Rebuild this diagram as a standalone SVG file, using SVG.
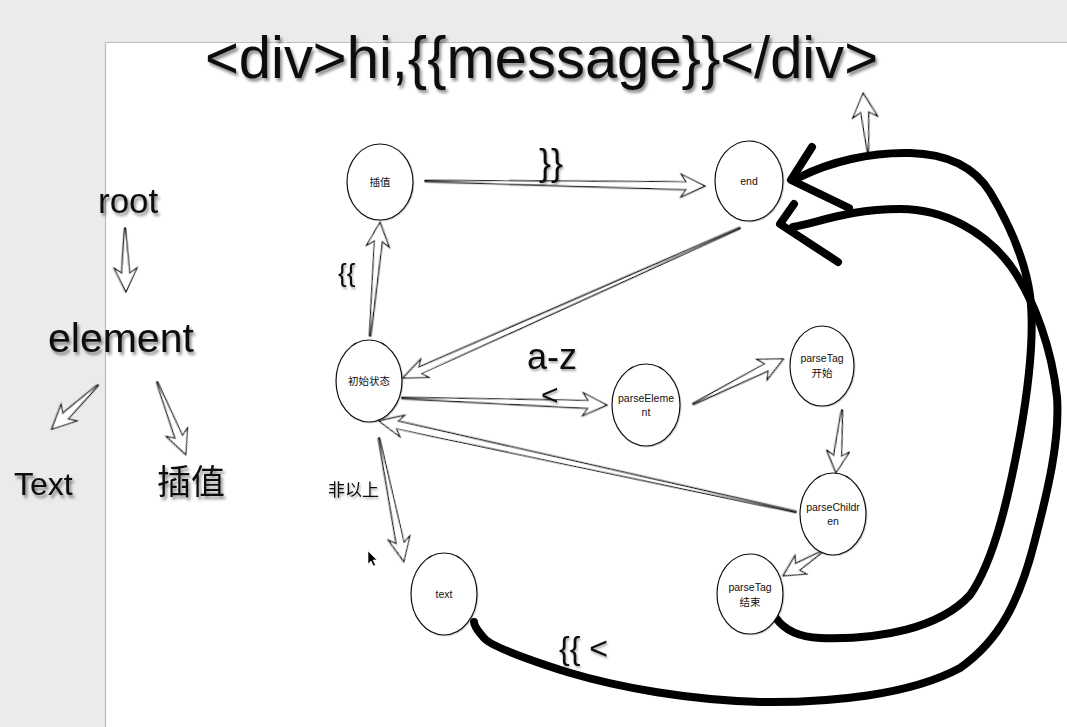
<svg xmlns="http://www.w3.org/2000/svg" width="1067" height="727" viewBox="0 0 1067 727">
<defs>
<style>
.big{font-family:"Liberation Sans","Noto Sans CJK SC",Arial,sans-serif;fill:#111;filter:url(#ts)}
.lbl{font-family:"Liberation Sans","Noto Sans CJK SC",Arial,sans-serif;fill:#111;filter:url(#ts2)}
.nt{font-family:"Liberation Sans","Noto Sans CJK SC",Arial,sans-serif;font-size:10.5px;fill:#111;text-anchor:middle}
.node ellipse{fill:#fff;stroke:#111;stroke-width:1.2;filter:url(#sh)}
.arr{fill:#fff;stroke:#111;stroke-width:1.1;stroke-linejoin:miter;filter:url(#sh)}
.thick{fill:none;stroke:#000;stroke-width:8;stroke-linecap:round;stroke-linejoin:round}
</style>
<filter id="ts" x="-10%" y="-20%" width="130%" height="160%"><feDropShadow dx="2" dy="3" stdDeviation="1.6" flood-color="#000" flood-opacity="0.45"/></filter>
<filter id="ts2" x="-10%" y="-20%" width="130%" height="160%"><feDropShadow dx="1" dy="2" stdDeviation="1" flood-color="#000" flood-opacity="0.35"/></filter>
<filter id="sh" x="-10%" y="-10%" width="130%" height="130%"><feDropShadow dx="0.8" dy="0.8" stdDeviation="0.5" flood-color="#000" flood-opacity="0.2"/></filter>
</defs>
<rect x="0" y="0" width="1067" height="727" fill="#ebebeb"/>
<rect x="105" y="42" width="962" height="685" fill="#fff"/>
<path d="M105.5,727 V42.5 H1067" fill="none" stroke="#bdbdbd" stroke-width="1.2"/>

<text class="big" x="205" y="78" font-size="59" textLength="673" lengthAdjust="spacingAndGlyphs">&lt;div&gt;hi,{{message}}&lt;/div&gt;</text>

<g id="tree">
<text class="big" x="98" y="213" font-size="35">root</text>
<text class="big" x="48" y="352" font-size="41">element</text>
<text class="big" x="14" y="495" font-size="32">Text</text>
<text class="big" x="157" y="494" font-size="34">插值</text>
</g>

<g id="connectors">
<path class="arr" transform="translate(425,181) rotate(1.02)" d="M0,-0.6 L261,-4 L256,-11.5 L280,0 L256,11.5 L261,4 L0,0.6 Z"/>
<path class="arr" transform="translate(740,228) rotate(156)" d="M0,-0.6 L350,-3.5 L345,-10 L369,0 L345,10 L350,3.5 L0,0.6 Z"/>
<path class="arr" transform="translate(370,336) rotate(-85)" d="M0,-0.6 L95,-4 L90,-11.5 L114,0 L90,11.5 L95,4 L0,0.6 Z"/>
<path class="arr" transform="translate(402,398) rotate(1.96)" d="M0,-0.6 L186,-4 L181,-11.5 L205,0 L181,11.5 L186,4 L0,0.6 Z"/>
<path class="arr" transform="translate(796,512) rotate(-167.69)" d="M0,-0.6 L408,-4 L403,-11 L427,0 L403,11 L408,4 L0,0.6 Z"/>
<path class="arr" transform="translate(379,438) rotate(78.6)" d="M0,-0.6 L107,-4 L102,-11 L126,0 L102,11 L107,4 L0,0.6 Z"/>
<path class="arr" transform="translate(693,404) rotate(-26.57)" d="M0,-0.6 L82,-4 L77,-11.5 L101,0 L77,11.5 L82,4 L0,0.6 Z"/>
<path class="arr" transform="translate(842,410) rotate(95.44)" d="M0,-0.6 L46,-4 L41,-11.5 L63,0 L41,11.5 L46,4 L0,0.6 Z"/>
<path class="arr" transform="translate(823,551) rotate(148)" d="M0,-0.6 L30,-4 L26,-11 L47,0 L26,11 L30,4 L0,0.6 Z"/>
<path class="arr" transform="translate(125,228) rotate(89.1)" d="M0,-0.6 L45,-4 L40,-11.5 L64,0 L40,11.5 L45,4 L0,0.6 Z"/>
<path class="arr" transform="translate(98,385) rotate(136.27)" d="M0,-0.6 L45,-4 L40,-11.5 L64,0 L40,11.5 L45,4 L0,0.6 Z"/>
<path class="arr" transform="translate(157,382) rotate(68.33)" d="M0,-0.6 L59,-4 L54,-11.5 L78,0 L54,11.5 L59,4 L0,0.6 Z"/>
<path class="arr" transform="translate(868,152) rotate(-94.84)" d="M0,-0.6 L40,-4 L35,-12.5 L59,0 L35,12.5 L40,4 L0,0.6 Z"/>

<path class="thick" d="M812,147 L791,180 L849,208"/>
<path class="thick" d="M794,204 L780,224 L838,262"/>
<path class="thick" d="M800,177 C830,162 870,152 910,153 C950,154 975,168 990,192 C1008,222 1025,260 1030,295 C1035,335 1028,390 1020,435 C1010,490 995,560 970,595 C940,628 880,640 820,638 C797,637 783,628 776,618"/>
<path class="thick" d="M793,227 C820,222 850,209 900,209 C945,209 985,232 1010,265 C1035,300 1052,350 1057,397 C1060,440 1048,490 1035,540 C1020,600 1000,640 960,668 C910,695 830,703 760,702 C690,700 620,688 567,672 C520,657 490,645 484,638 C477,630 474,625 474,622"/>

<text class="lbl" x="539" y="175" font-size="36">}}</text>
<text class="lbl" x="338" y="282" font-size="26">{{</text>
<text class="lbl" x="527" y="369" font-size="36">a-z</text>
<text class="lbl" x="541" y="405" font-size="30">&lt;</text>
<text class="lbl" x="328" y="496" font-size="17">非以上</text>
<text class="lbl" x="559" y="659" font-size="32">{{ &lt;</text>
</g>

<g id="n-chazhi" class="node"><ellipse cx="380" cy="182" rx="33" ry="38"/><text class="nt" x="380" y="186">插值</text></g>
<g id="n-end" class="node"><ellipse cx="749" cy="181" rx="34" ry="40"/><text class="nt" x="749" y="185">end</text></g>
<g id="n-init" class="node"><ellipse cx="369" cy="381" rx="33" ry="41"/><text class="nt" x="369" y="385">初始状态</text></g>
<g id="n-parseElement" class="node"><ellipse cx="646" cy="405" rx="34" ry="41"/><text class="nt" x="646" y="402">parseEleme</text><text class="nt" x="646" y="416">nt</text></g>
<g id="n-text" class="node"><ellipse cx="444" cy="594" rx="33" ry="41"/><text class="nt" x="444" y="598">text</text></g>
<g id="n-tagstart" class="node"><ellipse cx="822" cy="366" rx="32" ry="40"/><text class="nt" x="822" y="362">parseTag</text><text class="nt" x="822" y="377">开始</text></g>
<g id="n-children" class="node"><ellipse cx="833" cy="514" rx="33" ry="41"/><text class="nt" x="833" y="511">parseChildr</text><text class="nt" x="833" y="525">en</text></g>
<g id="n-tagend" class="node"><ellipse cx="750" cy="594" rx="33" ry="40"/><text class="nt" x="750" y="591">parseTag</text><text class="nt" x="750" y="606">结束</text></g>

<path d="M368,551 L368,564 L371,561 L373.5,566 L375.5,565 L373,560 L377,560 Z" fill="#000" stroke="#fff" stroke-width="0.6"/>
</svg>
